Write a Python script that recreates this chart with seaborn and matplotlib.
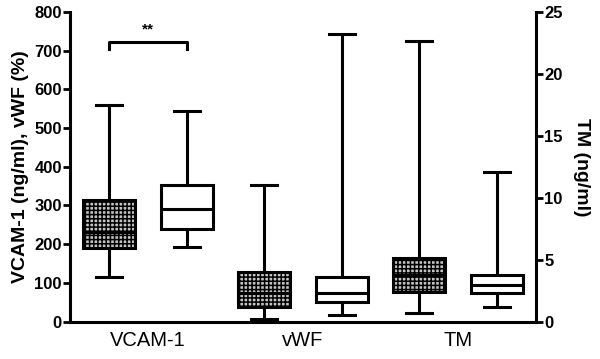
import pandas as pd
import seaborn as sns
import matplotlib.pyplot as plt

plt.rcParams['font.family'] = ['Liberation Sans', 'DejaVu Sans']
plt.rcParams['hatch.linewidth'] = 1.1

# Group labels and the six boxes (two per marker)
groups = ['VCAM-1', 'vWF', 'TM']
boxes = ['VCAM-1 a', 'VCAM-1 b', 'vWF a', 'vWF b', 'TM a', 'TM b']

# Five-number summaries: min, Q1, median, Q3, max
vcam_a = [116, 189, 232, 314, 559]
vcam_b = [194, 239, 290, 353, 545]
vwf_a = [8, 39, 73, 129, 354]
vwf_b = [17, 52, 73, 115, 744]
tm_a = [0.68, 2.42, 3.77, 5.11, 22.66]
tm_b = [1.21, 2.29, 2.96, 3.77, 12.05]

# Build long tables (min-max whiskers reproduce the summaries exactly)
left = pd.DataFrame({
    'box': [boxes[0]] * 5 + [boxes[1]] * 5 + [boxes[2]] * 5 + [boxes[3]] * 5,
    'value': vcam_a + vcam_b + vwf_a + vwf_b,
})
right = pd.DataFrame({
    'box': [boxes[4]] * 5 + [boxes[5]] * 5,
    'value': tm_a + tm_b,
})

fig, ax = plt.subplots(figsize=(6, 3.59), dpi=100)
fig.subplots_adjust(left=0.117, right=0.893, top=0.967, bottom=0.104)

box_kws = dict(x='box', y='value', order=boxes, whis=(0, 100), width=0.67,
               color='white', linecolor='black', linewidth=2.2, showfliers=False)
sns.boxplot(data=left, ax=ax, **box_kws)
ax2 = ax.twinx()
sns.boxplot(data=right, ax=ax2, **box_kws)

# Checkered fill on the first box of each pair
for p in [ax.patches[0], ax.patches[2], ax2.patches[0]]:
    p.set_hatch('++++')
    p.set_facecolor('#c4c4c4')

ax.set_ylim(0, 800)
ax.set_yticks(range(0, 801, 100))
ax2.set_ylim(0, 25)
ax2.set_yticks(range(0, 26, 5))
ax.set_xlim(-0.5, 5.5)

ax.set_xticks([0.5, 2.5, 4.5])
ax.set_xticklabels(groups, fontsize=14.5)
ax.tick_params(axis='x', length=0, pad=7)
ax.set_xlabel('')
ax2.set_xlabel('')

ax.set_ylabel('VCAM-1 (ng/ml), vWF (%)', fontsize=14, fontweight='bold', labelpad=4)
ax2.set_ylabel('TM (ng/ml)', fontsize=14, fontweight='bold', rotation=270, labelpad=20)

for a in (ax, ax2):
    a.tick_params(axis='y', width=2, length=5, labelsize=12, pad=1)
    for lab in a.get_yticklabels():
        lab.set_fontweight('bold')

ax.spines['top'].set_visible(False)
ax.spines['right'].set_visible(False)
ax2.spines['top'].set_visible(False)
ax2.spines['left'].set_visible(False)
ax2.spines['bottom'].set_visible(False)
for s in ['left', 'bottom']:
    ax.spines[s].set_linewidth(2.2)
ax2.spines['right'].set_linewidth(2.2)

# Significance bracket between the two VCAM-1 boxes
bracket_y = 722
ax.plot([0, 0, 1, 1], [bracket_y - 18, bracket_y, bracket_y, bracket_y - 18],
        color='black', lw=2.2, clip_on=False)
ax.text(0.5, bracket_y + 14, '**', ha='center', va='bottom', fontsize=11, fontweight='bold')

fig.savefig('out.png', dpi=100)
